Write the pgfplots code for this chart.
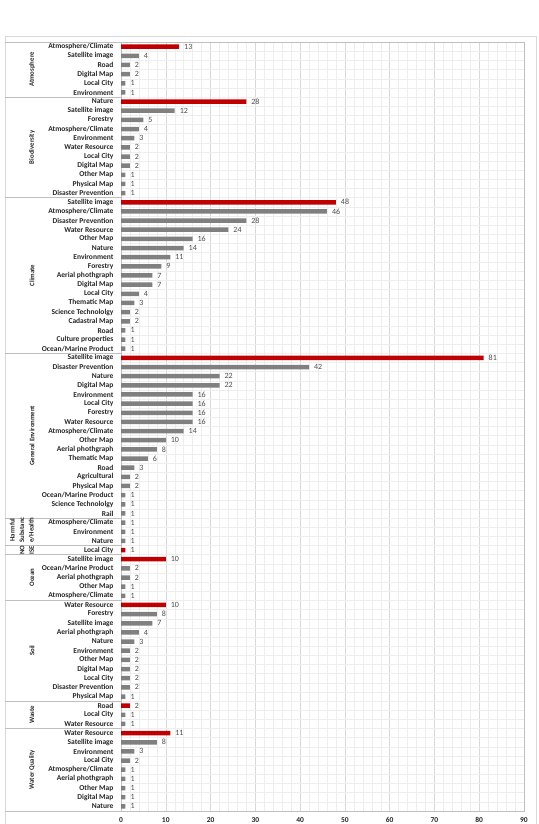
\documentclass[border=0pt]{standalone}
\usepackage{pgfplots}
\pgfplotsset{compat=1.18}
\usepackage{fontspec}
\setmainfont{Carlito}
\definecolor{barred}{HTML}{C00000}
\definecolor{bargray}{HTML}{808080}
\definecolor{sepgray}{HTML}{BFBFBF}
\definecolor{gridmaj}{HTML}{D9D9D9}
\definecolor{gridmin}{HTML}{EEEEEE}
\tikzset{grplab/.style={rotate=90, font=\bfseries\fontsize{6.8}{9.5}\selectfont, text=black!85, align=center}}
\begin{document}
\begin{tikzpicture}
\path[use as bounding box] (0pt,0pt) rectangle (538pt,824pt);
\draw[gridmaj] (5pt,-10pt) rectangle (536pt,788pt);
\begin{axis}[
  at={(121pt,13.1pt)}, anchor=south west,
  scale only axis, width=403pt, height=768.8pt,
  xbar, bar width=4.5pt, bar shift=0pt,
  xmin=0, xmax=90, ymin=-0.5, ymax=83.5, y dir=reverse,
  xtick={0,10,...,90}, minor x tick num=4,
  xmajorgrids, xminorgrids,
  major x grid style={gridmaj}, minor x grid style={gridmin},
  ytick={0,...,83},
  minor ytick={-0.5,0.5,...,83.5}, yminorgrids, minor y grid style={gridmin},
  major tick length=0pt, minor tick length=0pt,
  axis line style={sepgray},
  clip=false,
  /pgf/number format/assume math mode=true,
  xticklabel style={font=\bfseries\fontsize{7.5}{8}\selectfont, text=black!85, yshift=-3pt},
  yticklabel style={font=\bfseries\fontsize{7.5}{8}\selectfont, text=black!85, xshift=-4pt},
  yticklabels={Atmosphere/Climate, Satellite image, Road, Digital Map, Local City, Environment,
Nature, Satellite image, Forestry, Atmosphere/Climate, Environment, Water Resource, Local City, Digital Map, Other Map, Physical Map, Disaster Prevention,
Satellite image, Atmosphere/Climate, Disaster Prevention, Water Resource, Other Map, Nature, Environment, Forestry, Aerial phothgraph, Digital Map, Local City, Thematic Map, Science Technololgy, Cadastral Map, Road, Culture properties, Ocean/Marine Product,
Satellite image, Disaster Prevention, Nature, Digital Map, Environment, Local City, Forestry, Water Resource, Atmosphere/Climate, Other Map, Aerial phothgraph, Thematic Map, Road, Agricultural, Physical Map, Ocean/Marine Product, Science Technololgy, Rail,
Atmosphere/Climate, Environment, Nature,
Local City,
Satellite image, Ocean/Marine Product, Aerial phothgraph, Other Map, Atmosphere/Climate,
Water Resource, Forestry, Satellite image, Aerial phothgraph, Nature, Environment, Other Map, Digital Map, Local City, Disaster Prevention, Physical Map,
Road, Local City, Water Resource,
Water Resource, Satellite image, Environment, Local City, Atmosphere/Climate, Aerial phothgraph, Other Map, Digital Map, Nature},
  nodes near coords,
  nodes near coords style={font=\fontsize{8}{9}\selectfont, text=black!70, anchor=west, xshift=1.5pt},
]
\addplot[fill=bargray, draw=none] coordinates {
(4,1)(2,2)(2,3)(1,4)(1,5)
(12,7)(5,8)(4,9)(3,10)(2,11)(2,12)(2,13)(1,14)(1,15)(1,16)
(46,18)(28,19)(24,20)(16,21)(14,22)(11,23)(9,24)(7,25)(7,26)(4,27)(3,28)(2,29)(2,30)(1,31)(1,32)(1,33)
(42,35)(22,36)(22,37)(16,38)(16,39)(16,40)(16,41)(14,42)(10,43)(8,44)(6,45)(3,46)(2,47)(2,48)(1,49)(1,50)(1,51)
(1,52)(1,53)(1,54)
(2,57)(2,58)(1,59)(1,60)
(8,62)(7,63)(4,64)(3,65)(2,66)(2,67)(2,68)(2,69)(2,70)(1,71)
(1,73)(1,74)
(8,76)(3,77)(2,78)(1,79)(1,80)(1,81)(1,82)(1,83)
};
\addplot[fill=barred, draw=none] coordinates {
(13,0)(28,6)(48,17)(81,34)(1,55)(10,56)(10,61)(2,72)(11,75)
};
\pgfplotsinvokeforeach{-0.5,5.5,16.5,33.5,51.5,54.5,55.5,60.5,71.5,74.5,83.5}{
  \draw[sepgray] (axis cs:0,#1) -- ++(-116pt,0pt);
}
\node[grplab] at ([xshift=-89pt]axis cs:0,2.5) {Atmosphere};
\node[grplab] at ([xshift=-89pt]axis cs:0,11) {Biodiversity};
\node[grplab] at ([xshift=-89pt]axis cs:0,25) {Climate};
\node[grplab] at ([xshift=-89pt]axis cs:0,42.5) {General Environment};
\node[grplab] at ([xshift=-99pt]axis cs:0,52.8) {Harmful\\Substanc\\e/Health};
\node[grplab] at ([xshift=-94pt]axis cs:0,55) {NO\\ISE};
\node[grplab] at ([xshift=-89pt]axis cs:0,58) {Ocean};
\node[grplab] at ([xshift=-89pt]axis cs:0,66) {Soil};
\node[grplab] at ([xshift=-89pt]axis cs:0,73) {Waste};
\node[grplab] at ([xshift=-89pt]axis cs:0,79) {Water Quality};
\end{axis}
\end{tikzpicture}
\end{document}
